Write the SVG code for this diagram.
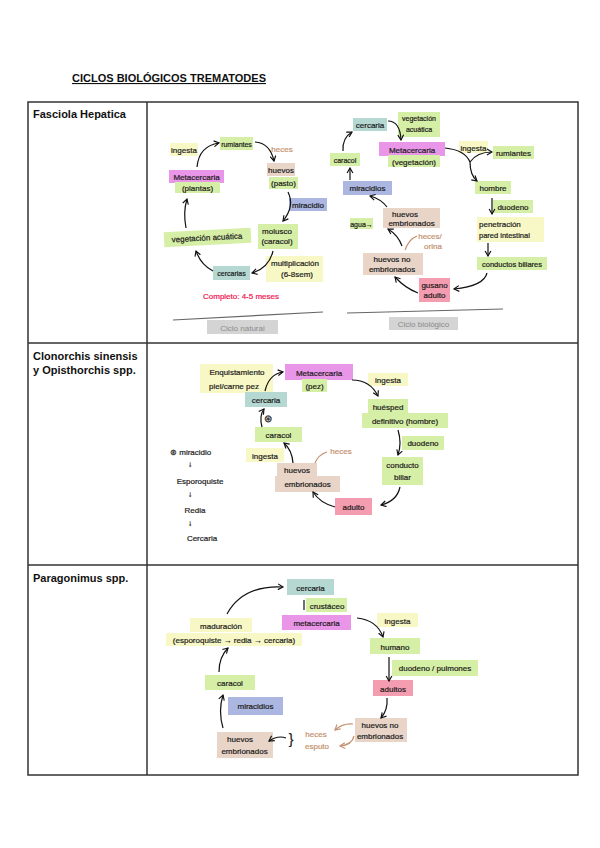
<svg xmlns="http://www.w3.org/2000/svg" width="600" height="848" viewBox="0 0 600 848">
<defs>
<marker id="ah" viewBox="0 0 10 10" refX="8" refY="5" markerWidth="6" markerHeight="6" orient="auto"><path d="M1,1 L8,5 L1,9" fill="none" stroke="#111" stroke-width="1.6"/></marker>
<marker id="ahb" viewBox="0 0 10 10" refX="8" refY="5" markerWidth="6" markerHeight="6" orient="auto"><path d="M1,1 L8,5 L1,9" fill="none" stroke="#c4906e" stroke-width="1.6"/></marker>
</defs>
<style>
.g{fill:#d6efa6}.y{fill:#f8f8c6}.m{fill:#ea96e8}.t{fill:#b5d8d2}.b{fill:#abb7e0}.br{fill:#e8d5c8}.p{fill:#f59db0}.gr{fill:#d4d4d4}
text{font-family:"Liberation Sans",Arial,sans-serif;font-size:8px;fill:#1a1a1a;stroke:#1a1a1a;stroke-width:0.2;text-anchor:middle}
.h{font-weight:bold;font-size:11px;text-anchor:start;fill:#111;stroke:none}
.bt{fill:#c4906e;stroke:#c4906e}
.gt{fill:#8a8a8a;stroke:none}
.rt{fill:#f0144f;stroke:#f0144f}
.l{text-anchor:start}
.c path{fill:none;stroke:#111;stroke-width:1.2;marker-end:url(#ah)}
.c path.bb{stroke:#c4906e;marker-end:url(#ahb)}
.c path.n{marker-end:none}
.c path.nb{marker-end:none;stroke:#c4906e}
</style>
<rect width="600" height="848" fill="#fff"/>
<!-- title -->
<text x="169" y="82" class="h" style="text-anchor:middle;font-size:11px;text-decoration:underline">CICLOS BIOLÓGICOS TREMATODES</text>
<!-- table -->
<g id="table" fill="none" stroke="#333" stroke-width="1.5">
<rect x="28" y="102" width="550" height="673"/>
<line x1="147" y1="102" x2="147" y2="775"/>
<line x1="28" y1="343" x2="578" y2="343"/>
<line x1="28" y1="565" x2="578" y2="565"/>
</g>
<text x="33" y="118" class="h">Fasciola Hepatica</text>
<text x="33" y="360" class="h">Clonorchis sinensis</text>
<text x="33" y="374" class="h">y Opisthorchis spp.</text>
<text x="33" y="582" class="h">Paragonimus spp.</text>

<!-- ===== Fasciola: ciclo natural ===== -->
<g id="f-ingesta"><rect class="y" x="170" y="143" width="28" height="13"/><text x="184" y="152.5">ingesta</text></g>
<g id="f-rumiantes"><rect class="g" x="220" y="137" width="33" height="13"/><text x="236.5" y="146.5" style="font-size:7px">rumiantes</text></g>
<g id="f-heces"><text x="282" y="152" class="bt">heces</text></g>
<g id="f-huevos"><rect class="br" x="267" y="163" width="28" height="13"/><text x="281" y="172.5">huevos</text><rect class="g" x="269" y="177" width="29" height="12"/><text x="283.5" y="186">(pasto)</text></g>
<g id="f-miracidio"><rect class="b" x="289" y="198" width="38" height="13"/><text x="308" y="207.5">miracidio</text></g>
<g id="f-metacercaria"><rect class="m" x="169" y="170" width="55" height="13"/><text x="196.5" y="179.5">Metacercaria</text><rect class="g" x="175" y="182" width="45" height="11"/><text x="197.5" y="190.5">(plantas)</text></g>
<g id="f-molusco"><rect class="g" x="258" y="224" width="40" height="25"/><text x="277" y="233.5">molusco</text><text x="277" y="244">(caracol)</text></g>
<g id="f-vegetacion" transform="rotate(-3 207 238)"><rect class="g" x="164" y="230" width="87" height="15"/><text x="207" y="240.5">vegetación acuática</text></g>
<g id="f-multiplicacion"><rect class="y" x="266" y="256" width="57" height="26"/><text x="295" y="265.5">multiplicación</text><text x="297" y="277">(6-8sem)</text></g>
<g id="f-cercarias"><rect class="t" x="213" y="266" width="37" height="14"/><text x="231.5" y="276" style="font-size:7px">cercarias</text></g>
<g id="f-completo"><text x="241" y="299" class="rt">Completo: 4-5 meses</text></g>
<g id="f-ciclo-natural"><line x1="173" y1="320" x2="323" y2="312" stroke="#666" stroke-width="1.2"/><rect class="gr" x="207" y="320" width="71" height="14"/><text x="242.5" y="330.5" class="gt">Ciclo natural</text></g>

<!-- ===== Fasciola: ciclo biologico ===== -->
<g id="b-cercaria"><rect class="t" x="353" y="118" width="34" height="13"/><text x="370" y="127.5">cercaria</text></g>
<g id="b-vegetacion"><rect class="g" x="398" y="112" width="42" height="25"/><text x="419" y="121" style="font-size:7px">vegetación</text><text x="419" y="132" style="font-size:7px">acuática</text></g>
<g id="b-metacercaria"><rect class="m" x="379" y="142" width="66" height="14"/><text x="412" y="152.5">Metacercaria</text><rect class="g" x="388" y="155" width="52" height="12"/><text x="414" y="164.5">(vegetación)</text></g>
<g id="b-caracol"><rect class="g" x="330" y="153" width="30" height="13"/><text x="345" y="162.5" style="font-size:7px">caracol</text></g>
<g id="b-miracidios"><rect class="b" x="343" y="181" width="49" height="14"/><text x="367.5" y="191">miracidios</text></g>
<g id="b-ingesta"><rect class="y" x="459" y="141" width="29" height="12"/><text x="473.5" y="150.5">ingesta</text></g>
<g id="b-rumiantes"><rect class="g" x="493" y="146" width="41" height="13"/><text x="513.5" y="155.5">rumiantes</text></g>
<g id="b-hombre"><rect class="g" x="475" y="181" width="36" height="13"/><text x="493" y="190.5">hombre</text></g>
<g id="b-duodeno"><rect class="g" x="493" y="200" width="40" height="13"/><text x="513" y="209.5">duodeno</text></g>
<g id="b-penetracion"><rect class="y" x="477" y="217" width="67" height="25"/><text x="479" y="227" class="l">penetración</text><text x="479" y="238" class="l" style="font-size:7.5px">pared intestinal</text></g>
<g id="b-conductos"><rect class="g" x="477" y="257" width="70" height="13"/><text x="512" y="266.5" style="font-size:7.5px">conductos biliares</text></g>
<g id="b-gusano"><rect class="p" x="419" y="278" width="31" height="24"/><text x="434.5" y="287.5">gusano</text><text x="434.5" y="298">adulto</text></g>
<g id="b-huevos-no"><rect class="br" x="363" y="253" width="60" height="22"/><text x="392" y="262">huevos no</text><text x="392" y="272">embrionados</text></g>
<g id="b-huevos-emb"><rect class="br" x="383" y="208" width="57" height="20"/><text x="405" y="216.5">huevos</text><text x="411.5" y="226">embrionados</text></g>
<g id="b-agua"><rect class="g" x="350" y="218" width="23" height="11"/><text x="361.5" y="226.5" style="font-size:7px">agua→</text></g>
<g id="b-heces"><text x="430" y="239" class="bt">heces/</text><text x="433" y="249" class="bt">orina</text></g>
<g id="b-ciclo-biologico"><line x1="347" y1="313" x2="503" y2="309" stroke="#666" stroke-width="1.2"/><rect class="gr" x="389" y="317" width="69" height="13"/><text x="423.5" y="327" class="gt">Ciclo biológico</text></g>

<!-- ===== Clonorchis ===== -->
<g id="c-enquistamiento"><rect class="y" x="200" y="364" width="73" height="29"/><text x="237" y="375">Enquistamiento</text><text x="234" y="388.5">piel/carne pez</text></g>
<g id="c-metacercaria"><rect class="m" x="285" y="364" width="68" height="16"/><text x="319" y="375.5">Metacercaria</text><rect class="g" x="302" y="379" width="25" height="13"/><text x="314.5" y="388.5">(pez)</text></g>
<g id="c-cercaria"><rect class="t" x="245" y="392" width="42" height="15"/><text x="266" y="403">cercaria</text></g>
<g id="c-simbolo"><text x="268" y="422" style="font-size:10px">⊛</text></g>
<g id="c-caracol"><rect class="g" x="255" y="427" width="47" height="15"/><text x="278.5" y="438">caracol</text></g>
<g id="c-ingesta"><rect class="y" x="246" y="448" width="38" height="14"/><text x="265" y="458.5">ingesta</text></g>
<g id="c-huevos"><rect class="br" x="277" y="463" width="40" height="13"/><rect class="br" x="275" y="476" width="65" height="16"/><text x="297" y="473">huevos</text><text x="307.5" y="487">embrionados</text></g>
<g id="c-heces"><text x="341" y="454" class="bt">heces</text></g>
<g id="c-adulto"><rect class="p" x="335" y="498" width="37" height="17"/><text x="353.5" y="510">adulto</text></g>
<g id="c-conducto"><rect class="g" x="382" y="457" width="41" height="28"/><text x="402.5" y="468">conducto</text><text x="402.5" y="480">biliar</text></g>
<g id="c-duodeno"><rect class="g" x="402" y="436" width="42" height="14"/><text x="423" y="446">duodeno</text></g>
<g id="c-huesped"><rect class="g" x="368" y="399" width="40" height="14"/><rect class="g" x="362" y="413" width="86" height="15"/><text x="388" y="409.5">huésped</text><text x="405" y="423.5">definitivo (hombre)</text></g>
<g id="c-ingesta2"><rect class="y" x="368" y="373" width="40" height="13"/><text x="388" y="382.5">ingesta</text></g>
<g id="c-leyenda"><text x="170" y="455" class="l">⊛ miracidio</text><text x="190" y="467">↓</text><text x="200" y="484">Esporoquiste</text><text x="190" y="497">↓</text><text x="195" y="513">Redia</text><text x="190" y="526">↓</text><text x="202" y="541">Cercaria</text></g>

<!-- ===== Paragonimus ===== -->
<g id="p-cercaria"><rect class="t" x="287" y="579" width="47" height="16"/><text x="310.5" y="590.5">cercaria</text></g>
<g id="p-crustaceo"><rect class="g" x="306" y="598" width="41" height="14"/><text x="327" y="608.5">crustáceo</text></g>
<g id="p-metacercaria"><rect class="m" x="282" y="615" width="69" height="15"/><text x="316.5" y="626">metacercaria</text></g>
<g id="p-maduracion"><rect class="y" x="190" y="618" width="62" height="14"/><text x="221" y="628.5">maduración</text></g>
<g id="p-esporoquiste"><rect class="y" x="166" y="633" width="136" height="13"/><text x="234" y="643">(esporoquiste → redia → cercaria)</text></g>
<g id="p-caracol"><rect class="g" x="205" y="675" width="50" height="15"/><text x="230" y="686">caracol</text></g>
<g id="p-miracidios"><rect class="b" x="228" y="697" width="55" height="18"/><text x="255.5" y="709">miracidios</text></g>
<g id="p-huevos-emb"><rect class="br" x="217" y="732" width="56" height="26"/><text x="240" y="742">huevos</text><text x="244.5" y="753.5">embrionados</text></g>
<g id="p-heces"><text x="316" y="737" class="bt">heces</text><text x="317" y="749" class="bt">esputo</text></g>
<g id="p-huevos-no"><rect class="br" x="355" y="718" width="52" height="24"/><text x="380" y="727.5">huevos no</text><text x="380" y="738.5">embrionados</text></g>
<g id="p-ingesta"><rect class="y" x="377" y="613" width="41" height="14"/><text x="397.5" y="623.5">ingesta</text></g>
<g id="p-humano"><rect class="g" x="370" y="638" width="50" height="16"/><text x="395" y="649.5">humano</text></g>
<g id="p-duodeno"><rect class="g" x="392" y="660" width="86" height="16"/><text x="435" y="671">duodeno / pulmones</text></g>
<g id="p-adultos"><rect class="p" x="373" y="680" width="40" height="16"/><text x="393" y="691.5">adultos</text></g>

<!-- ===== connectors ===== -->
<g id="connectors" class="c">
<!-- fasciola natural -->
<path d="M197,167 Q199,146 219,143"/>
<path d="M255,142 Q270,143 274,161"/>
<path d="M288,192 Q295,206 283,221"/>
<path d="M273,251 Q269,268 252,273"/>
<path d="M213,271 Q201,265 196,251"/>
<path d="M186,228 Q183,212 187,199"/>
<!-- fasciola biologico -->
<path d="M388,121 Q400,121 401,140"/>
<path d="M343,151 Q342,138 352,132"/>
<path d="M350,180 L350,168"/>
<path d="M387,207 Q381,199 370,196"/>
<path d="M402,246 Q398,235 388,229"/>
<path d="M418,293 Q405,288 395,277"/>
<path d="M487,273 Q484,286 454,289"/>
<path d="M488,243 L488,256"/>
<path d="M492,198 L492,214"/>
<path class="n" d="M445,148 Q465,150 470,162"/>
<path d="M470,162 Q477,152 492,152"/>
<path d="M470,162 Q470,175 477,181"/>
<path class="nb" d="M405,250 Q409,239 417,236"/>
<!-- clonorchis -->
<path d="M265,391 Q269,374 283,372"/>
<path d="M262,427 Q259,416 264,409"/>
<path d="M293,463 Q292,450 284,443"/>
<path d="M335,507 Q320,503 313,492"/>
<path d="M400,487 Q397,501 381,505"/>
<path d="M398,430 Q402,443 398,455"/>
<path d="M352,380 Q370,380 378,396"/>
<path class="nb" d="M315,463 Q318,455 327,452"/>
<!-- paragonimus -->
<path d="M227,614 Q243,585 283,587"/>
<path d="M219,672 Q219,657 228,648"/>
<path d="M223,728 Q218,711 223,695"/>
<path d="M286,738 Q278,735 269,741"/>
<path class="bb" d="M353,724 Q343,723 335,730"/>
<path class="bb" d="M354,736 Q352,745 340,746"/>
<path d="M387,698 Q388,710 381,718"/>
<path d="M389,657 L389,681"/>
<path d="M357,618 Q377,620 383,637"/>
<path class="n" d="M304,600 L304,610"/>
</g>
<text x="291" y="744" style="font-size:14px">}</text>
</svg>
